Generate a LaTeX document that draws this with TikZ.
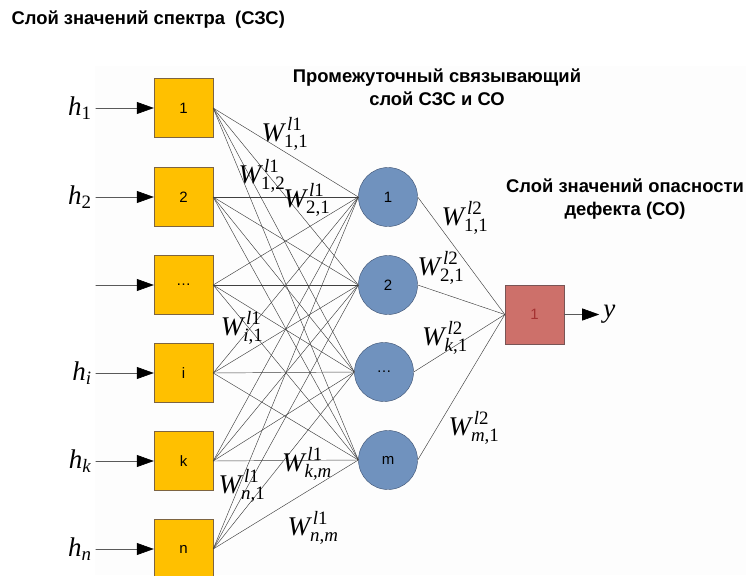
\documentclass[tikz,border=0pt]{standalone}
\usepackage{amsmath}
\usepackage{fontspec}
\setmainfont{Liberation Serif}
\setsansfont{Liberation Sans}
\usetikzlibrary{arrows.meta,positioning}

% Colors
\definecolor{boxfill}{RGB}{255,192,0}
\definecolor{boxedge}{RGB}{125,100,65}
\definecolor{nodefill}{RGB}{112,146,190}
\definecolor{nodeedge}{RGB}{60,80,112}
\definecolor{outfill}{RGB}{205,112,106}
\definecolor{outedge}{RGB}{120,85,85}
\definecolor{outtext}{RGB}{165,50,50}

% Labels
\newcommand{\hlab}[1]{$\textit{h}_{\text{#1}}$}
\newcommand{\wlab}[2]{$\textit{W}^{\,\text{#1}}_{\text{#2}}$}

\begin{document}
\begin{tikzpicture}%Сеть: слой СЗС -> промежуточный слой -> слой СО
  [x=1pt,y=-1pt,line cap=round,
   % Styles
   input box/.style={draw=boxedge,fill=boxfill,minimum size=59pt,inner sep=0pt,
     font=\sffamily\fontsize{15}{17}\selectfont},
   hidden node/.style={circle,draw=nodeedge,fill=nodefill,minimum size=59pt,inner sep=0pt,
     font=\sffamily\fontsize{15}{17}\selectfont},
   output box/.style={draw=outedge,fill=outfill,minimum size=59pt,inner sep=0pt,
     text=outtext,font=\sffamily\fontsize{15}{17}\selectfont},
   weight line/.style={black!75,line width=0.45pt},
   signal arrow/.style={black!65,line width=0.6pt,-{Triangle[length=17pt,width=12pt,color=black]}},
   layer title/.style={font=\sffamily\bfseries\fontsize{18.4}{23}\selectfont,align=center},
   weight label/.style={font=\fontsize{27}{31}\selectfont,inner sep=0pt}]

  % Background
  \fill[black!0.8] (95,66) rectangle (746,575);
  \useasboundingbox (0,0) rectangle (746,575);

  % Titles
  \node[layer title,anchor=west] (title1) at (8,20) {Слой значений спектра\ \ (СЗС)};
  \node[layer title] (title2) at (437,87) {Промежуточный связывающий\\слой СЗС и СО};
  \node[layer title] (title3) at (625,199) {Слой значений опасности\\дефекта (СО)};

  % Input layer
  \foreach \n/\y/\txt in {1/108/1, 2/197/2, 3/285/\ldots, 4/373/i, 5/461/k, 6/549/n}
  {
    \node[input box] (in\n) at (183.5,\y) {\txt};
    \coordinate[left=58pt of in\n.west] (src\n);
    \draw[signal arrow] (src\n) -- (in\n);
  }
  \foreach \n/\lab in {1/1, 2/2, 4/\textit{i}, 5/\textit{k}, 6/\textit{n}}
    \node[weight label,left=4pt of src\n] (h\n) {\hlab{\lab}};

  % Hidden layer
  \foreach \m/\x/\y/\txt in {1/388/197/1, 2/388/285/2, 3/384/372/\ldots, 4/388/460/m}
    \node[hidden node] (hid\m) at (\x,\y) {\txt};

  \foreach \n in {1,...,6}
    \foreach \m in {1,...,4}
      \draw[weight line] (in\n.east) -- (hid\m.west);

  % Output layer
  \node[output box] (out) at (534.5,314.5) {1};
  \foreach \m in {1,...,4}
    \draw[weight line] (hid\m.east) -- (out.west);

  \coordinate[right=35pt of out.east] (yend);
  \draw[signal arrow] (out) -- (yend);
  \node[weight label,right=4pt of yend] (ylab) {$\textit{y}$};

  % Weights
  \node[weight label] (w11) at (285,134) {\wlab{\textit{l}1}{1,1}};
  \node[weight label] (w12) at (262,176) {\wlab{\textit{l}1}{1,2}};
  \node[weight label] (w21) at (307,200) {\wlab{\textit{l}1}{2,1}};
  \node[weight label] (wi1) at (242,328) {\wlab{\textit{l}1}{\textit{i},1}};
  \node[weight label] (wkm) at (307,464) {\wlab{\textit{l}1}{\textit{k},\textit{m}}};
  \node[weight label] (wn1) at (242,486) {\wlab{\textit{l}1}{\textit{n},1}};
  \node[weight label] (wnm) at (313,528) {\wlab{\textit{l}1}{\textit{n},\textit{m}}};

  \node[weight label] (v11) at (465,218) {\wlab{\textit{l}2}{1,1}};
  \node[weight label] (v21) at (441,268) {\wlab{\textit{l}2}{2,1}};
  \node[weight label] (vk1) at (445,338) {\wlab{\textit{l}2}{\textit{k},1}};
  \node[weight label] (vm1) at (474,428) {\wlab{\textit{l}2}{\textit{m},1}};
\end{tikzpicture}
\end{document}
